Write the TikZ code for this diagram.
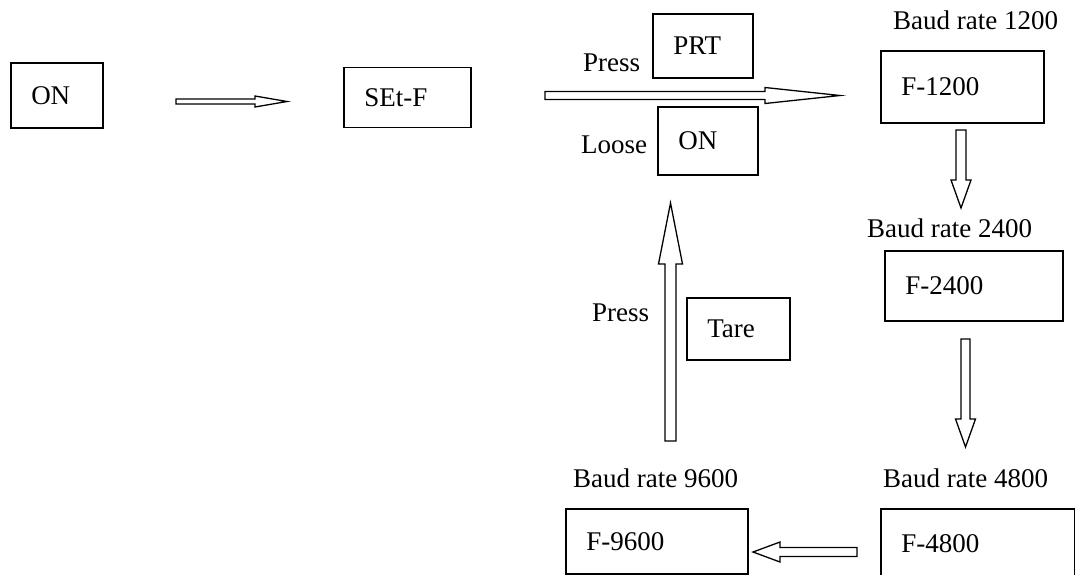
\documentclass[tikz,border=0pt]{standalone}
\usepackage{fontspec}
\setmainfont{Liberation Serif}
\usetikzlibrary{calc}

\tikzset{
  box/.style={draw, line width=1.5pt, anchor=north west, align=left, inner xsep=20.5pt, inner ysep=0pt},
  lbl/.style={inner sep=0pt, anchor=base west},
  hollow/.style={draw, line width=1.3pt, fill=white, line join=miter}
}

% tail, tip, shaft half width, head half width, head length
\newcommand{\blockarrow}[5]{%
  \coordinate (hb) at ($(#2)!#5!(#1)$);
  \draw[hollow] ($(#1)!#3!90:(#2)$) -- ($(hb)!#3!90:(#2)$) -- ($(hb)!#4!90:(#2)$) -- (#2)
    -- ($(hb)!#4!-90:(#2)$) -- ($(hb)!#3!-90:(#2)$) -- ($(#1)!#3!-90:(#2)$) -- cycle;
}

\begin{document}
\begin{tikzpicture}[x=1pt, y=-1pt, font=\fontsize{27}{32}\selectfont]
\useasboundingbox (0,0) rectangle (1075,574);
\clip (0,0) rectangle (1075,574);

\node[box, text width=51pt, minimum height=65pt] (on) at (10,62) {ON};
\node[box, text width=86pt, minimum height=60pt] (setf) at (343,66.5) {SEt-F};
\node[box, text width=59pt, minimum height=64pt] (prt) at (652,13) {PRT};
\node[box, text width=59pt, minimum height=68pt] (onkey) at (657,106) {ON};
\node[box, text width=122pt, minimum height=72pt] (f1200) at (880,50) {F-1200};
\node[box, text width=62pt, minimum height=62pt] (tare) at (686,297) {Tare};
\node[box, text width=137pt, minimum height=70pt] (f2400) at (884,250) {F-2400};
\node[box, text width=141pt, minimum height=65pt] (f9600) at (565,508) {F-9600};
\node[box, text width=153pt, minimum height=70pt] (f4800) at (880,508) {F-4800};

\node[lbl] (press) at (583,71) {Press};
\node[lbl] (loose) at (581,153) {Loose};
\node[lbl] (pressb) at (592,321) {Press};
\node[lbl] (baud1200) at (893,29) {Baud rate 1200};
\node[lbl] (baud2400) at (867,237) {Baud rate 2400};
\node[lbl] (baud4800) at (883,487) {Baud rate 4800};
\node[lbl] (baud9600) at (573,487) {Baud rate 9600};

\coordinate (a1t) at (176,101.5);
\coordinate (a1h) at (287,101.5);
\coordinate (a2t) at (545,95.5);
\coordinate (a2h) at (840,95.5);
\coordinate (a3t) at (961,130);
\coordinate (a3h) at (961,208);
\coordinate (a4t) at (965.5,339);
\coordinate (a4h) at (965.5,447);
\coordinate (a5t) at (857,552);
\coordinate (a5h) at (753,552);
\coordinate (a6t) at (670.5,441);
\coordinate (a6h) at (670.5,203);

\blockarrow{a1t}{a1h}{2.5pt}{5.5pt}{32pt}
\blockarrow{a2t}{a2h}{4pt}{8pt}{75pt}
\blockarrow{a3t}{a3h}{5pt}{10pt}{28pt}
\blockarrow{a4t}{a4h}{4.5pt}{10pt}{28pt}
\blockarrow{a5t}{a5h}{4.5pt}{10pt}{27pt}
\blockarrow{a6t}{a6h}{5.5pt}{12pt}{61pt}
\end{tikzpicture}
\end{document}
